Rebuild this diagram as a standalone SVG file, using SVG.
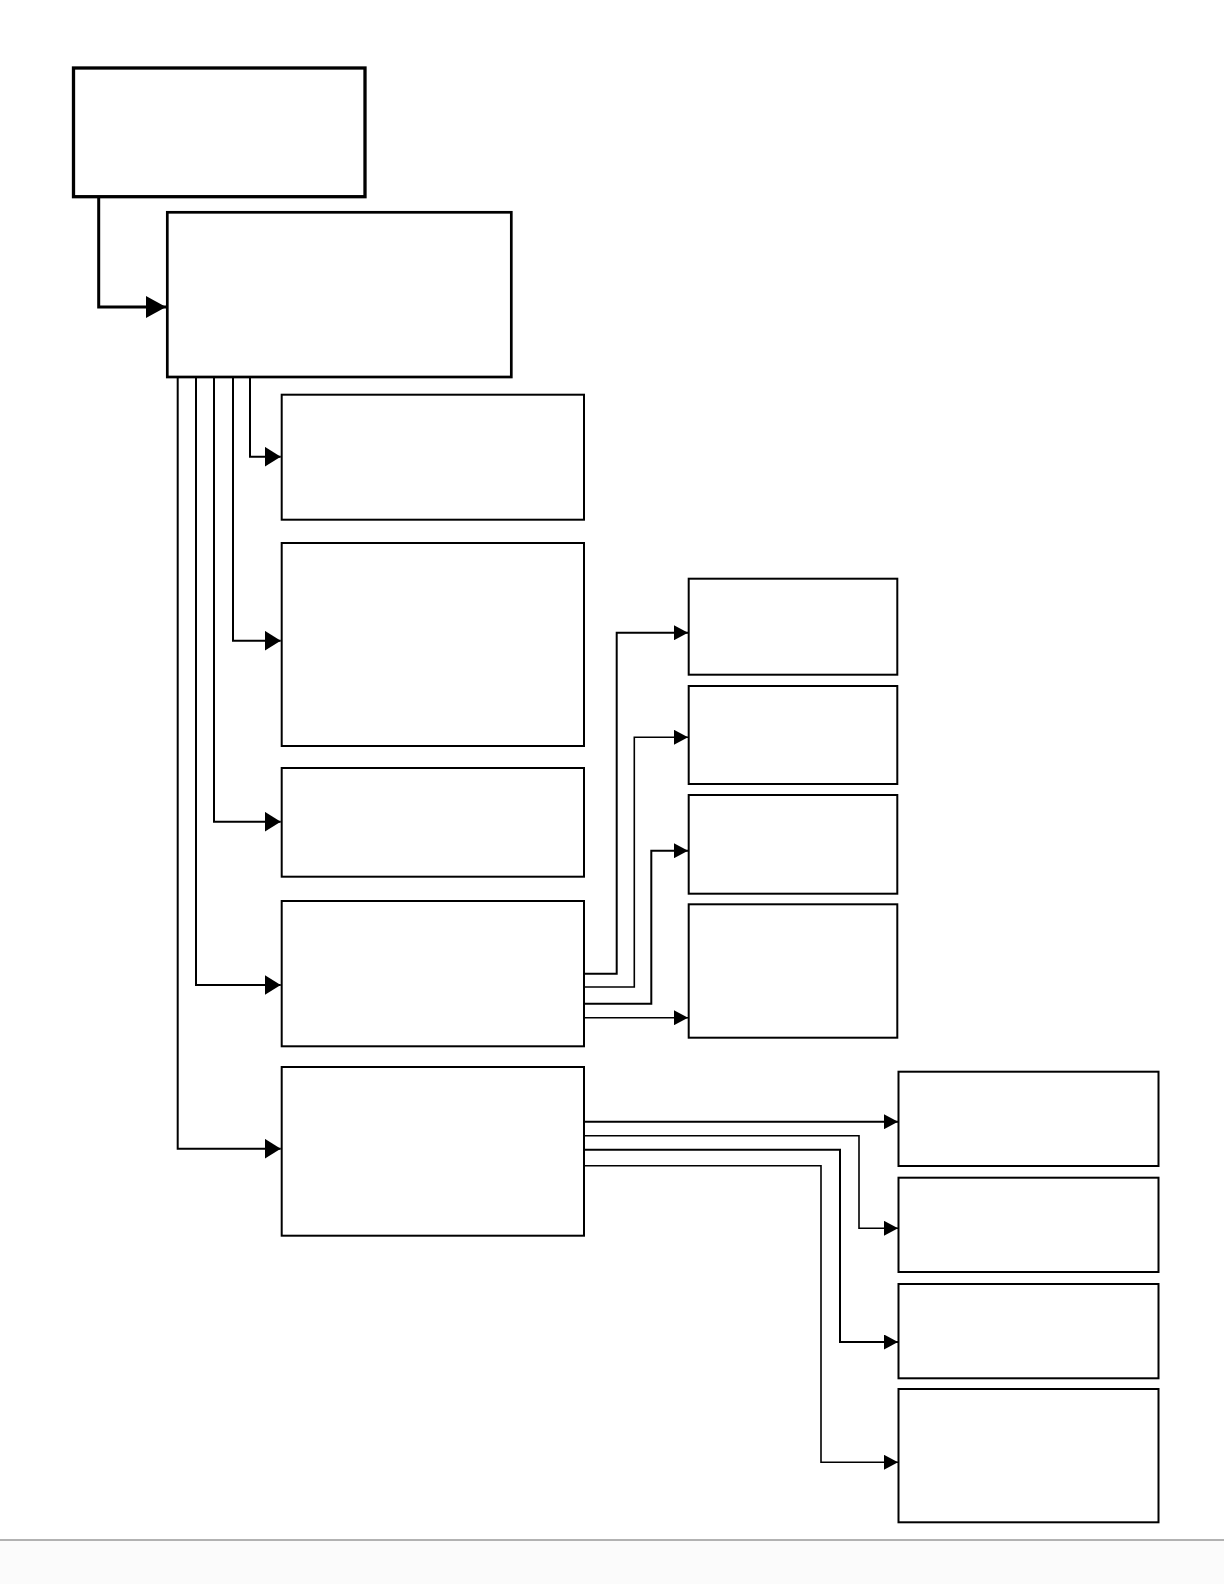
<svg xmlns="http://www.w3.org/2000/svg" width="1224" height="1584" viewBox="0 0 1224 1584">
  <style>
    .node { fill: #ffffff; stroke: #000000; stroke-width: 2; }
    .root { stroke-width: 3.3; }
    .main { stroke-width: 2.7; }
    .conn { fill: none; stroke: #000000; stroke-width: 2; }
    .thick { stroke-width: 3; }
    .thin { stroke-width: 1.6; }
  </style>
  <defs>
    <marker id="arrowL" markerUnits="userSpaceOnUse" viewBox="0 0 20 22" markerWidth="20" markerHeight="22" refX="20" refY="11" orient="auto">
      <path d="M0,0 L20,11 L0,22 z" fill="#000"/>
    </marker>
    <marker id="arrowM" markerUnits="userSpaceOnUse" viewBox="0 0 16 20" markerWidth="16" markerHeight="20" refX="16" refY="10" orient="auto">
      <path d="M0,0 L16,10 L0,20 z" fill="#000"/>
    </marker>
    <marker id="arrowS" markerUnits="userSpaceOnUse" viewBox="0 0 14 15" markerWidth="14" markerHeight="15" refX="14" refY="7.5" orient="auto">
      <path d="M0,0 L14,7.5 L0,15 z" fill="#000"/>
    </marker>
  </defs>
  <rect x="0" y="0" width="1224" height="1584" fill="#ffffff"/>
  <rect x="0" y="1541" width="1224" height="43" fill="#fbfbfb"/>
  <line x1="0" y1="1540" x2="1224" y2="1540" stroke="#999999" stroke-width="1.5"/>

  <g id="connectors">
    <path class="conn thick" d="M98.7,197 V307 H166" marker-end="url(#arrowL)"/>
    <path class="conn" d="M250,377 V456.7 H280.7" marker-end="url(#arrowM)"/>
    <path class="conn" d="M233,377 V640.7 H280.7" marker-end="url(#arrowM)"/>
    <path class="conn" d="M214,377 V821.7 H280.7" marker-end="url(#arrowM)"/>
    <path class="conn" d="M196,377 V985 H280.7" marker-end="url(#arrowM)"/>
    <path class="conn" d="M177.7,377 V1148.7 H280.7" marker-end="url(#arrowM)"/>

    <path class="conn" d="M584,973.7 H616.7 V632.7 H688" marker-end="url(#arrowS)"/>
    <path class="conn thin" d="M584,987 H634.3 V737.3 H688" marker-end="url(#arrowS)"/>
    <path class="conn" d="M584,1003.7 H651.3 V850.7 H688" marker-end="url(#arrowS)"/>
    <path class="conn thin" d="M584,1017.7 H688" marker-end="url(#arrowS)"/>

    <path class="conn" d="M584,1121.7 H898" marker-end="url(#arrowS)"/>
    <path class="conn thin" d="M584,1135.7 H859 V1228.3 H898" marker-end="url(#arrowS)"/>
    <path class="conn" d="M584,1149.7 H840 V1342 H898" marker-end="url(#arrowS)"/>
    <path class="conn thin" d="M584,1165.7 H821 V1462.3 H898" marker-end="url(#arrowS)"/>
  </g>

  <g id="node-a"><rect class="node root" x="73.5" y="68" width="291.5" height="128.7"/></g>
  <g id="node-b"><rect class="node main" x="167.3" y="212.3" width="344" height="164.7"/></g>
  <g id="node-c"><rect class="node" x="281.7" y="394.7" width="302.3" height="125"/></g>
  <g id="node-d"><rect class="node" x="281.7" y="543" width="302.3" height="203"/></g>
  <g id="node-e"><rect class="node" x="281.7" y="768" width="302.3" height="108.7"/></g>
  <g id="node-f"><rect class="node" x="281.7" y="901" width="302.3" height="145.3"/></g>
  <g id="node-g"><rect class="node" x="281.7" y="1067" width="302.3" height="168.7"/></g>
  <g id="node-h"><rect class="node" x="688.7" y="578.7" width="208.6" height="96"/></g>
  <g id="node-i"><rect class="node" x="688.7" y="686" width="208.6" height="98"/></g>
  <g id="node-j"><rect class="node" x="688.7" y="795" width="208.6" height="98.7"/></g>
  <g id="node-k"><rect class="node" x="688.7" y="904.3" width="208.6" height="133.4"/></g>
  <g id="node-l"><rect class="node" x="898.5" y="1071.7" width="260" height="94.3"/></g>
  <g id="node-m"><rect class="node" x="898.5" y="1177.7" width="260" height="94.3"/></g>
  <g id="node-n"><rect class="node" x="898.5" y="1284" width="260" height="94.3"/></g>
  <g id="node-o"><rect class="node" x="898.5" y="1389" width="260" height="133.3"/></g>
</svg>
